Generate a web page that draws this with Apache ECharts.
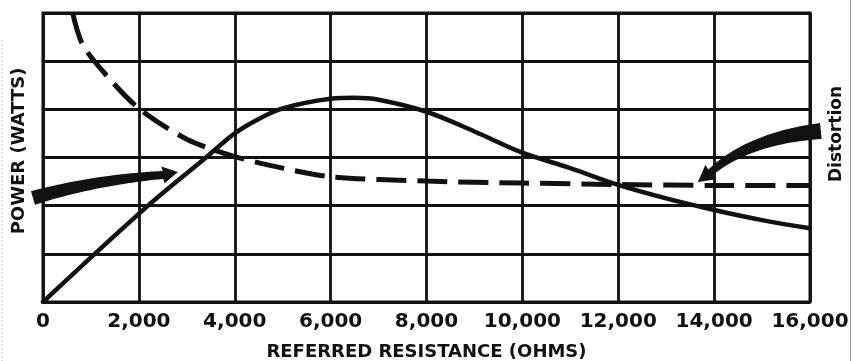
<!DOCTYPE html>
<html>
<head>
<meta charset="utf-8">
<title>Power and distortion vs referred resistance</title>
<script src="https://cdn.jsdelivr.net/npm/echarts@6/dist/echarts.min.js"></script>
<style>
  html, body { margin: 0; padding: 0; background: #fff; }
  #chart { width: 853px; height: 361px; }
</style>
</head>
<body>
<div id="chart"></div>
<script>
// Referred resistance (ohms) axis ticks
const resistanceTicks = [0, 2000, 4000, 6000, 8000, 10000, 12000, 14000, 16000];

// Power output curve: [ohms, relative power]
const powerOhms   = [0, 2190, 3400, 4000, 4500, 5000, 6000, 6500, 7000, 8000, 9000, 10000, 11000, 12000, 13000, 14000, 15000, 16000];
const powerValues = [0, 2.00, 3.00, 3.50, 3.80, 4.02, 4.22, 4.24, 4.20, 3.95, 3.54, 3.10, 2.78, 2.43, 2.15, 1.91, 1.70, 1.53];

// Distortion curve: [ohms, relative distortion]
const distortionOhms   = [625, 834, 1356, 2000, 3000, 4000, 5000, 6000, 8000, 10000, 12000, 14000, 16000];
const distortionValues = [5.97, 5.33, 4.67, 4.02, 3.38, 3.02, 2.78, 2.60, 2.51, 2.47, 2.44, 2.42, 2.42];

// Where the two pointer arrows touch their curves
const powerArrowTip      = [2815, 2.70];
const distortionArrowTip = [13660, 2.49];

const INK = '#111';
const FONT = '"DejaVu Sans", sans-serif';

const zip = (xs, ys) => xs.map((x, i) => [x, ys[i]]);

const chart = echarts.init(document.getElementById('chart'), null, { renderer: 'canvas' });

chart.setOption({
  animation: false,
  backgroundColor: '#fff',
  grid: {
    left: 43, right: 43, top: 13, bottom: 59,
    containLabel: false,
    outerBoundsMode: 'none',
    show: true, borderColor: INK, borderWidth: 3, backgroundColor: 'transparent'
  },
  xAxis: {
    type: 'value',
    min: resistanceTicks[0],
    max: resistanceTicks[resistanceTicks.length - 1],
    interval: resistanceTicks[1] - resistanceTicks[0],
    axisLine: { show: false },
    axisTick: { show: false },
    splitLine: { show: true, lineStyle: { color: INK, width: 2.8 } },
    axisLabel: {
      margin: 10,
      color: INK,
      fontFamily: FONT,
      fontWeight: 'bold',
      fontSize: 20,
      formatter: v => v.toLocaleString('en-US')
    },
    name: 'REFERRED RESISTANCE (OHMS)',
    nameLocation: 'middle',
    nameGap: 41,
    nameTextStyle: { color: INK, fontFamily: FONT, fontWeight: 'bold', fontSize: 18 }
  },
  yAxis: {
    type: 'value',
    min: 0, max: 6, interval: 1,
    axisLine: { show: false },
    axisTick: { show: false },
    axisLabel: { show: false },
    splitLine: { show: true, lineStyle: { color: INK, width: 2.8 } }
  },
  series: [
    {
      name: 'Power',
      type: 'line',
      data: zip(powerOhms, powerValues),
      smooth: 0.35,
      symbol: 'none',
      clip: true,
      lineStyle: { color: INK, width: 4.5, cap: 'round' },
      z: 3
    },
    {
      name: 'Distortion',
      type: 'line',
      data: zip(distortionOhms, distortionValues),
      smooth: 0.3,
      symbol: 'none',
      clip: true,
      lineStyle: { color: INK, width: 5, type: [30, 11], cap: 'butt' },
      z: 3
    }
  ]
});

// Tapered, curved pointer arrow: quadratic centreline from tail to the head's base,
// width easing from w0 to w1, then a triangular head ending at the tip.
function arrowPolygon(tip, off) {
  const T = [tip[0] + off.tail[0], tip[1] + off.tail[1]];
  const C = [tip[0] + off.ctrl[0], tip[1] + off.ctrl[1]];
  const E = [tip[0] + off.base[0], tip[1] + off.base[1]];
  const n = 30, left = [], right = [];
  for (let i = 0; i <= n; i++) {
    const t = i / n, u = 1 - t;
    const x = u * u * T[0] + 2 * u * t * C[0] + t * t * E[0];
    const y = u * u * T[1] + 2 * u * t * C[1] + t * t * E[1];
    const dx = 2 * u * (C[0] - T[0]) + 2 * t * (E[0] - C[0]);
    const dy = 2 * u * (C[1] - T[1]) + 2 * t * (E[1] - C[1]);
    const len = Math.hypot(dx, dy) || 1;
    const nx = -dy / len, ny = dx / len;
    const w = (off.w0 + (off.w1 - off.w0) * t) / 2;
    left.push([x + nx * w, y + ny * w]);
    right.push([x - nx * w, y - ny * w]);
  }
  const dx = tip[0] - E[0], dy = tip[1] - E[1];
  const len = Math.hypot(dx, dy) || 1;
  const nx = -dy / len, ny = dx / len;
  const h = off.head;
  const headL = [E[0] + nx * h, E[1] + ny * h];
  const headR = [E[0] - nx * h, E[1] - ny * h];
  return left.concat([headL, tip, headR]).concat(right.reverse());
}

const p1 = chart.convertToPixel({ gridIndex: 0 }, powerArrowTip);
const p2 = chart.convertToPixel({ gridIndex: 0 }, distortionArrowTip);

chart.setOption({
  graphic: [
    {
      type: 'polygon',
      shape: { points: arrowPolygon(p1, { tail: [-145, 26], ctrl: [-83, 8], base: [-15, 3], w0: 14, w1: 8, head: 8.5 }) },
      style: { fill: INK },
      z: 10
    },
    {
      type: 'polygon',
      shape: { points: arrowPolygon(p2, { tail: [123, -51], ctrl: [52, -44], base: [13, -10], w0: 16, w1: 7, head: 9 }) },
      style: { fill: INK },
      z: 10
    },
    {
      type: 'text',
      x: 19, y: 151,
      rotation: Math.PI / 2,
      style: {
        text: 'POWER (WATTS)',
        fill: INK, font: 'bold 18px ' + FONT,
        textAlign: 'center', textVerticalAlign: 'middle'
      },
      z: 12
    },
    {
      type: 'text',
      x: 837, y: 134,
      rotation: Math.PI / 2,
      style: {
        text: 'Distortion',
        fill: INK, font: 'bold 17px ' + FONT,
        textAlign: 'center', textVerticalAlign: 'middle'
      },
      z: 12
    },
    // page edges of the printed figure
    {
      type: 'line',
      shape: { x1: 2, y1: 40, x2: 2, y2: 361 },
      style: { stroke: '#bbb', lineWidth: 1, lineDash: [2, 2] },
      silent: true
    },
    {
      type: 'line',
      shape: { x1: 850.5, y1: 0, x2: 850.5, y2: 361 },
      style: { stroke: '#999', lineWidth: 1 },
      silent: true
    }
  ]
});
</script>
</body>
</html>
